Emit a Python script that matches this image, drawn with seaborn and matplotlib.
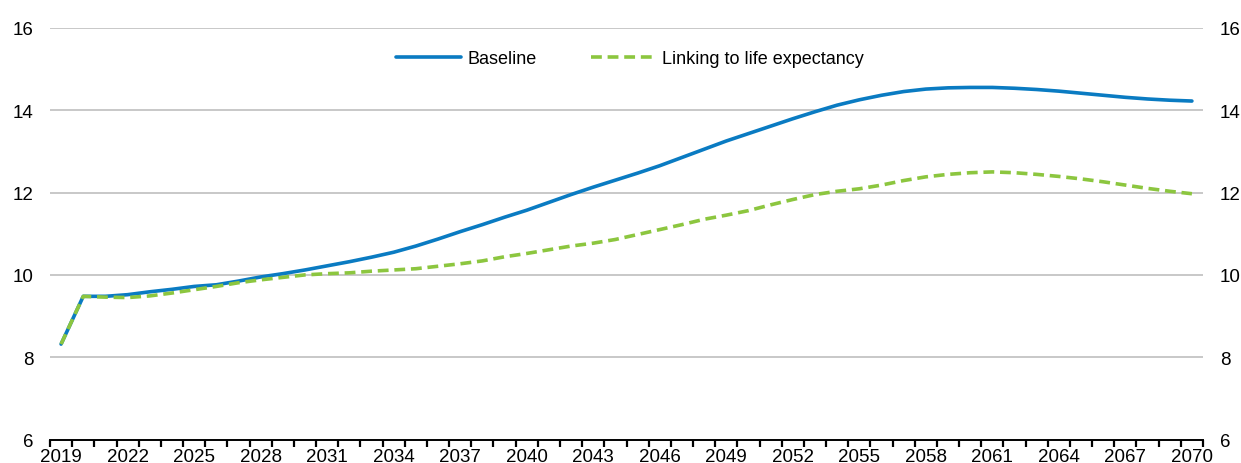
import numpy as np
import pandas as pd
import matplotlib
matplotlib.use("Agg")
import matplotlib.pyplot as plt
import seaborn as sns

years = list(range(2019, 2071))
baseline = [8.32, 9.48, 9.48, 9.52, 9.59, 9.65, 9.72, 9.76, 9.85, 9.95,
            10.03, 10.12, 10.22, 10.32, 10.43, 10.55, 10.70, 10.87, 11.05, 11.22,
            11.40, 11.57, 11.76, 11.95, 12.13, 12.30, 12.47, 12.65, 12.85, 13.05,
            13.25, 13.43, 13.61, 13.79, 13.96, 14.12, 14.25, 14.36, 14.45, 14.51,
            14.54, 14.55, 14.55, 14.53, 14.50, 14.46, 14.41, 14.36, 14.31, 14.27,
            14.24, 14.22]
linking = [8.32, 9.48, 9.46, 9.45, 9.49, 9.56, 9.64, 9.72, 9.81, 9.88,
           9.94, 10.0, 10.03, 10.05, 10.09, 10.12, 10.15, 10.21, 10.27, 10.34,
           10.44, 10.52, 10.61, 10.70, 10.77, 10.86, 10.98, 11.10, 11.22, 11.35,
           11.45, 11.56, 11.70, 11.83, 11.95, 12.03, 12.09, 12.18, 12.29, 12.38,
           12.44, 12.48, 12.50, 12.48, 12.44, 12.39, 12.33, 12.26, 12.18, 12.10,
           12.03, 11.97]
series_names = ["Baseline", "Linking to life expectancy"]
y_ticks = [6, 8, 10, 12, 14, 16]
label_years = list(range(2019, 2071, 3))

df = pd.DataFrame({
    "year": years * 2,
    "value": baseline + linking,
    "series": [series_names[0]] * len(years) + [series_names[1]] * len(years),
})

sns.set_style("white")
plt.rcParams["font.family"] = ["Liberation Sans", "DejaVu Sans"]
plt.rcParams["text.color"] = "black"

fig = plt.figure(figsize=(12.41, 4.64), dpi=100)
ax = fig.add_axes([50 / 1241, (464 - 440.7) / 464, 1153 / 1241, 412 / 464])

blue = "#0a7bc2"
green = "#8cc63f"
sns.lineplot(data=df, x="year", y="value", hue="series", style="series",
             palette={series_names[0]: blue, series_names[1]: green},
             dashes={series_names[0]: "", series_names[1]: (3.0, 1.6)},
             linewidth=2.6, ax=ax, legend=True)

ax.set_xlim(years[0] - 0.5, years[-1] + 0.5)
ax.set_ylim(y_ticks[0], y_ticks[-1])
ax.set_yticks(y_ticks)
# major ticks: year boundaries (tick marks, no labels)
ax.set_xticks([y - 0.5 for y in years] + [years[-1] + 0.5])
ax.set_xticklabels([])
# minor ticks: label positions (labels, no tick marks)
ax.set_xticks(label_years, minor=True)
ax.set_xticklabels([str(y) for y in label_years], minor=True)
ax.tick_params(axis="x", which="major", bottom=True, length=5, width=1.6,
               direction="out", color="black")
ax.tick_params(axis="x", which="minor", bottom=True, length=0, labelsize=13.5, pad=6,
               labelcolor="black")
ax.tick_params(axis="y", which="major", length=0, labelsize=13.5, pad=12,
               left=False, right=False, labelleft=True, labelright=True,
               labelcolor="black")

for v in y_ticks[1:]:
    ax.axhline(v, color="#c8c8c8", linewidth=1.4, zorder=0)

for s in ["top", "left", "right"]:
    ax.spines[s].set_visible(False)
ax.spines["bottom"].set_color("black")
ax.spines["bottom"].set_linewidth(1.4)
ax.set_xlabel("")
ax.set_ylabel("")

handles, labels = ax.get_legend_handles_labels()
leg = ax.legend(handles, labels, loc="upper center", bbox_to_anchor=(0.503, 0.985),
                ncol=2, frameon=False, fontsize=13, handlelength=3.6,
                columnspacing=3.0, handletextpad=0.35, labelcolor="black")

fig.savefig("out.png", dpi=100, facecolor="white")
